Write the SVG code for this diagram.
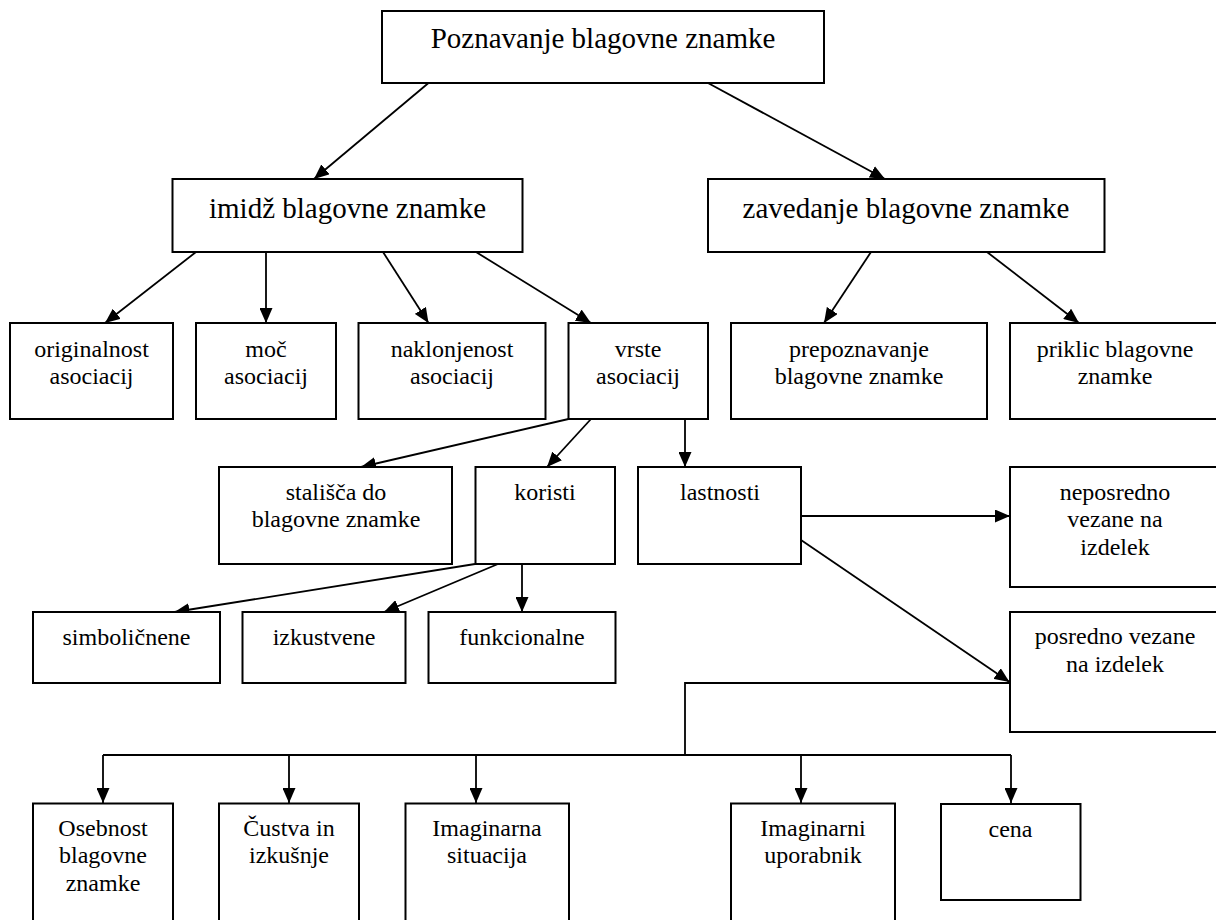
<svg xmlns="http://www.w3.org/2000/svg" width="1216" height="920" viewBox="0 0 1216 920">
<style>
.box{fill:#fff;stroke:#000;stroke-width:2}
.t{font-family:'Liberation Serif','Tinos','Times New Roman','DejaVu Serif',serif;font-size:24px;fill:#000;text-anchor:middle}
.big{font-size:29px}
.c{stroke:#000;stroke-width:1.8;fill:none}
</style>
<defs>
<marker id="ah" markerUnits="userSpaceOnUse" markerWidth="15" markerHeight="13" refX="15" refY="6.5" orient="auto">
<path d="M0,0 L15,6.5 L0,13 z" fill="#000"/>
</marker>
</defs>
<rect width="1216" height="920" fill="#fff"/>
<g id="connectors">
<line class="c" x1="428.5" y1="83" x2="314" y2="179" marker-end="url(#ah)"/>
<line class="c" x1="708" y1="83" x2="885" y2="179" marker-end="url(#ah)"/>
<line class="c" x1="196" y1="252" x2="105" y2="323" marker-end="url(#ah)"/>
<line class="c" x1="266" y1="252" x2="266" y2="323" marker-end="url(#ah)"/>
<line class="c" x1="383" y1="252" x2="428.5" y2="323" marker-end="url(#ah)"/>
<line class="c" x1="476" y1="252" x2="591" y2="323" marker-end="url(#ah)"/>
<line class="c" x1="871" y1="252" x2="824" y2="323" marker-end="url(#ah)"/>
<line class="c" x1="987" y1="252" x2="1079" y2="323" marker-end="url(#ah)"/>
<line class="c" x1="568.5" y1="419" x2="361" y2="467" marker-end="url(#ah)"/>
<line class="c" x1="591" y1="419" x2="547" y2="467" marker-end="url(#ah)"/>
<line class="c" x1="685" y1="419" x2="685" y2="467" marker-end="url(#ah)"/>
<line class="c" x1="801" y1="516" x2="1010" y2="516" marker-end="url(#ah)"/>
<line class="c" x1="801" y1="540" x2="1009.5" y2="682" marker-end="url(#ah)"/>
<line class="c" x1="475" y1="564" x2="174.5" y2="612" marker-end="url(#ah)"/>
<line class="c" x1="498" y1="564" x2="384" y2="612" marker-end="url(#ah)"/>
<line class="c" x1="522" y1="564" x2="522" y2="612" marker-end="url(#ah)"/>
<polyline class="c" points="1010,683 685,683 685,755"/>
<line class="c" x1="103" y1="755" x2="1011" y2="755"/>
<line class="c" x1="103" y1="755" x2="103" y2="803" marker-end="url(#ah)"/>
<line class="c" x1="289" y1="755" x2="289" y2="803" marker-end="url(#ah)"/>
<line class="c" x1="476" y1="755" x2="476" y2="803" marker-end="url(#ah)"/>
<line class="c" x1="801" y1="755" x2="801" y2="803" marker-end="url(#ah)"/>
<line class="c" x1="1011" y1="755" x2="1011" y2="803" marker-end="url(#ah)"/>
</g>
<g id="n-root"><rect class="box" x="382" y="11" width="442" height="72"/><text class="t big" font-family="Liberation Serif, serif" x="603" y="48">Poznavanje blagovne znamke</text></g>
<g id="n-imidz"><rect class="box" x="172.5" y="179" width="350" height="73"/><text class="t big" x="347.5" y="218">imidž blagovne znamke</text></g>
<g id="n-zavedanje"><rect class="box" x="708" y="179" width="396.5" height="73"/><text class="t big" x="906" y="218">zavedanje blagovne znamke</text></g>
<g id="n-originalnost"><rect class="box" x="10" y="323" width="163" height="96"/><text class="t" x="91.5" y="357">originalnost</text><text class="t" x="91.5" y="384">asociacij</text></g>
<g id="n-moc"><rect class="box" x="196" y="323" width="140" height="96"/><text class="t" x="266" y="357">moč</text><text class="t" x="266" y="384">asociacij</text></g>
<g id="n-naklonjenost"><rect class="box" x="358.5" y="323" width="187" height="96"/><text class="t" x="452" y="357">naklonjenost</text><text class="t" x="452" y="384">asociacij</text></g>
<g id="n-vrste"><rect class="box" x="568.5" y="323" width="139.5" height="96"/><text class="t" x="638" y="357">vrste</text><text class="t" x="638" y="384">asociacij</text></g>
<g id="n-prepoznavanje"><rect class="box" x="731" y="323" width="256" height="96"/><text class="t" x="859" y="357">prepoznavanje</text><text class="t" x="859" y="384">blagovne znamke</text></g>
<g id="n-priklic"><rect class="box" x="1010" y="323" width="214" height="96"/><text class="t" x="1115" y="357">priklic blagovne</text><text class="t" x="1115" y="384">znamke</text></g>
<g id="n-stalisca"><rect class="box" x="219" y="467" width="233" height="97"/><text class="t" x="336" y="500">stališča do</text><text class="t" x="336" y="527">blagovne znamke</text></g>
<g id="n-koristi"><rect class="box" x="475.5" y="467" width="139.5" height="97"/><text class="t" x="545" y="500">koristi</text></g>
<g id="n-lastnosti"><rect class="box" x="638" y="467" width="163" height="97"/><text class="t" x="720" y="500">lastnosti</text></g>
<g id="n-neposredno"><rect class="box" x="1010" y="467" width="214" height="120"/><text class="t" x="1115" y="500">neposredno</text><text class="t" x="1115" y="527">vezane na</text><text class="t" x="1115" y="555">izdelek</text></g>
<g id="n-simbolicnene"><rect class="box" x="33" y="612" width="187" height="71"/><text class="t" x="126.5" y="645">simboličnene</text></g>
<g id="n-izkustvene"><rect class="box" x="242.5" y="612" width="163" height="71"/><text class="t" x="324" y="645">izkustvene</text></g>
<g id="n-funkcionalne"><rect class="box" x="428.5" y="612" width="187" height="71"/><text class="t" x="522" y="645">funkcionalne</text></g>
<g id="n-posredno"><rect class="box" x="1010" y="612" width="214" height="120"/><text class="t" x="1115" y="644">posredno vezane</text><text class="t" x="1115" y="672">na izdelek</text></g>
<g id="n-osebnost"><rect class="box" x="33" y="803.5" width="140" height="130"/><text class="t" x="103" y="836">Osebnost</text><text class="t" x="103" y="863">blagovne</text><text class="t" x="103" y="891">znamke</text></g>
<g id="n-custva"><rect class="box" x="219" y="803.5" width="140" height="130"/><text class="t" x="289" y="836">Čustva in</text><text class="t" x="289" y="863">izkušnje</text></g>
<g id="n-imaginarna"><rect class="box" x="405.5" y="803.5" width="163.5" height="130"/><text class="t" x="487" y="836">Imaginarna</text><text class="t" x="487" y="863">situacija</text></g>
<g id="n-imaginarni"><rect class="box" x="731" y="803.5" width="164" height="130"/><text class="t" x="813" y="836">Imaginarni</text><text class="t" x="813" y="863">uporabnik</text></g>
<g id="n-cena"><rect class="box" x="941" y="804" width="139.5" height="96"/><text class="t" x="1010.5" y="837">cena</text></g>
</svg>
